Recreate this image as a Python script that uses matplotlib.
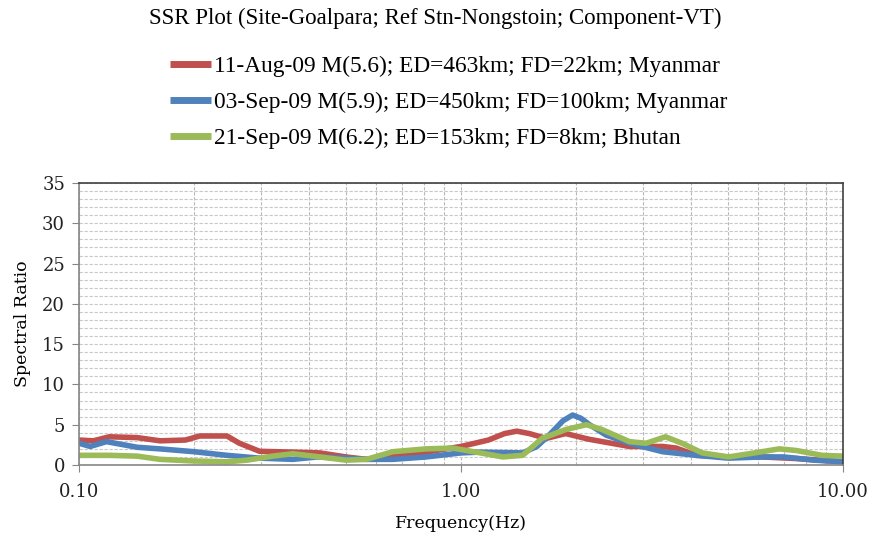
import matplotlib
matplotlib.use("Agg")
import matplotlib.pyplot as plt
from matplotlib.ticker import FixedLocator, FormatStrFormatter, MultipleLocator, NullFormatter

# ---- data ----
freq_red = [0.100, 0.109, 0.120, 0.142, 0.163, 0.190, 0.207, 0.244, 0.263, 0.297, 0.363, 0.427,
            0.500, 0.566, 0.663, 0.810, 1.00, 1.18, 1.30, 1.40, 1.51, 1.67, 1.88, 2.16, 2.76, 3.37,
            3.66, 4.13, 5.02, 6.14, 7.55, 10.0]
ratio_red = [3.1, 3.0, 3.5, 3.4, 3.0, 3.1, 3.6, 3.6, 2.7, 1.7, 1.6, 1.5,
             1.0, 0.7, 1.2, 1.6, 2.3, 3.1, 3.9, 4.2, 3.9, 3.3, 3.9, 3.2, 2.3, 2.3,
             2.1, 1.2, 1.0, 1.0, 0.8, 0.4]

freq_blue = [0.100, 0.107, 0.118, 0.142, 0.163, 0.200, 0.244, 0.297, 0.363, 0.420, 0.500, 0.566,
             0.663, 0.810, 1.00, 1.12, 1.45, 1.58, 1.70, 1.85, 1.96, 2.06, 2.17, 2.40, 2.76,
             3.37, 4.13, 5.02, 6.14, 7.00, 8.40, 10.0]
ratio_blue = [2.7, 2.3, 2.9, 2.2, 2.0, 1.65, 1.2, 0.85, 0.7, 1.0, 0.85, 0.7,
              0.7, 1.0, 1.5, 1.6, 1.5, 2.3, 3.7, 5.5, 6.2, 5.8, 5.0, 3.7, 2.7,
              1.65, 1.2, 0.85, 1.0, 1.0, 0.6, 0.4]

freq_green = [0.100, 0.120, 0.142, 0.163, 0.199, 0.244, 0.275, 0.321, 0.363, 0.427, 0.500, 0.566,
              0.663, 0.810, 0.951, 1.124, 1.287, 1.45, 1.63, 1.88, 2.13, 2.34, 2.76, 3.05, 3.43,
              3.79, 4.28, 5.02, 6.14, 6.80, 7.55, 8.81, 10.0]
ratio_green = [1.2, 1.2, 1.1, 0.7, 0.5, 0.4, 0.6, 1.1, 1.4, 1.0, 0.6, 0.7,
               1.65, 2.0, 2.1, 1.5, 1.0, 1.2, 3.3, 4.4, 5.0, 4.4, 2.9, 2.7, 3.5,
               2.7, 1.5, 1.0, 1.65, 2.0, 1.8, 1.2, 1.1]

labels = ["11-Aug-09 M(5.6); ED=463km; FD=22km; Myanmar",
          "03-Sep-09 M(5.9); ED=450km; FD=100km; Myanmar",
          "21-Sep-09 M(6.2); ED=153km; FD=8km; Bhutan"]
colors = ["#C0504D", "#4F81BD", "#9BBB59"]

title = "SSR Plot (Site-Goalpara; Ref Stn-Nongstoin; Component-VT)"
xlabel = "Frequency(Hz)"
ylabel = "Spectral Ratio"
xticks = [0.1, 1.0, 10.0]
yticks = [0, 5, 10, 15, 20, 25, 30, 35]

# ---- figure ----
fig = plt.figure(figsize=(8.75, 5.39), dpi=100)
ax = fig.add_axes([79/875, 74/539, (843-79)/875, (465-183)/539])

serif = "Liberation Serif"
tickfont = "DejaVu Serif"

lines = []
for f, r, c, lab in zip([freq_red, freq_blue, freq_green],
                        [ratio_red, ratio_blue, ratio_green], colors, labels):
    ln, = ax.plot(f, r, color=c, lw=4, solid_joinstyle="round", solid_capstyle="round", label=lab)
    lines.append(ln)

ax.set_xscale("log")
ax.set_xlim(0.1, 10)
ax.set_ylim(0, 35)
ax.xaxis.set_major_locator(FixedLocator(xticks))
ax.xaxis.set_major_formatter(FormatStrFormatter("%.2f"))
ax.xaxis.set_minor_formatter(NullFormatter())
ax.yaxis.set_major_locator(FixedLocator(yticks))
ax.yaxis.set_minor_locator(MultipleLocator(1))

ax.grid(True, which="both", axis="y", color="#C8C8C8", lw=0.8, ls=(0, (3, 1.5)))
ax.grid(True, which="both", axis="x", color="#B8B8B8", lw=0.8, ls=(0, (3, 1.5)))
ax.set_axisbelow(True)

ax.tick_params(axis="both", which="major", direction="out", length=5, color="#868686",
               labelsize=13, pad=5)
ax.tick_params(axis="x", which="major", pad=8)
ax.tick_params(axis="both", which="minor", length=0)
for lab in ax.get_xticklabels() + ax.get_yticklabels():
    lab.set_fontfamily(tickfont)
    lab.set_color("#222222")

for s in ["left", "bottom"]:
    ax.spines[s].set_color("#868686")
    ax.spines[s].set_linewidth(1.2)
for s in ["top", "right"]:
    ax.spines[s].set_color("#404040")
    ax.spines[s].set_linewidth(1.2)

ax.set_xlabel(xlabel, fontfamily=tickfont, fontsize=12.5, labelpad=10)
ax.set_ylabel(ylabel, fontfamily=tickfont, fontsize=12.5, labelpad=8)

fig.text(0.497, 1 - 18/539, title, ha="center", va="center", fontfamily=serif, fontsize=16.5)

leg = fig.legend(handles=lines, labels=labels, loc="upper left",
                 bbox_to_anchor=(170/875, 1 - 56/539), frameon=False,
                 prop={"family": serif, "size": 16.8}, handlelength=1.75,
                 handletextpad=0.15, labelspacing=0.62, borderaxespad=0, borderpad=0)
for h in leg.legend_handles:
    h.set_linewidth(5)
    h.set_solid_capstyle("butt")

fig.savefig("out.png", dpi=100)
